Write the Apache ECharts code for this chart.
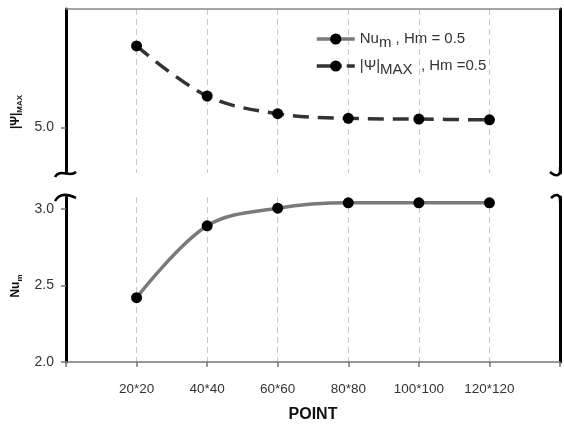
<!DOCTYPE html>
<html>
<head>
<meta charset="utf-8">
<script src="https://cdn.jsdelivr.net/npm/echarts@6/dist/echarts.min.js"></script>
<style>
  html, body { margin: 0; padding: 0; background: #fff; }
  #chart { width: 564px; height: 424px; }
</style>
</head>
<body>
<div id="chart"></div>
<script>
// grid sizes (categories padded with an empty slot on each side)
const points = ['20*20', '40*40', '60*60', '80*80', '100*100', '120*120']
const nuValues = [2.42, 2.89, 3.005, 3.04, 3.04, 3.04]
const psiValues = [5.53, 5.205, 5.09, 5.06, 5.055, 5.05]
const nuTicks = [2.0, 2.5, 3.0]
const psiTicks = [5.0]

const font = 'Liberation Sans'
const axisData = [''].concat(points, [''])
const pad = arr => [null].concat(arr, [null])

const names = {
  num: '{b|Nu}{s|m}{b| , Hm = 0.5}',
  psi: '{b||Ψ|}{s|MAX}{b|  , Hm =0.5}'
}

const dashedGrid = { show: true, lineStyle: { color: '#c8c8c8', type: [6, 4], width: 1 } }

function breakMark(x1, y1, cx1, cy1, cx2, cy2, x2, y2) {
  return {
    type: 'bezierCurve',
    shape: { x1, y1, cpx1: cx1, cpy1: cy1, cpx2: cx2, cpy2: cy2, x2, y2 },
    style: { stroke: '#000', lineWidth: 2.5, fill: null },
    z: 10
  }
}

const subName = {
  b: { fontSize: 12, fontWeight: 'bold', fill: '#111', fontFamily: font, lineHeight: 16 },
  s: { fontSize: 8, fontWeight: 'bold', fill: '#111', fontFamily: font, lineHeight: 16, verticalAlign: 'bottom', padding: [5, 0, 0, 0] }
}

const chart = echarts.init(document.getElementById('chart'))
chart.setOption({
  animation: false,
  backgroundColor: '#fff',
  textStyle: { fontFamily: font },
  grid: [
    { left: 66, right: 4, top: 9, height: 164 },
    { left: 66, right: 4, top: 197, bottom: 61 }
  ],
  xAxis: [
    {
      type: 'category', gridIndex: 0, data: axisData, boundaryGap: false, position: 'top',
      axisLine: { show: true, onZero: false, lineStyle: { color: '#888', width: 1.5 } },
      axisTick: { show: false }, axisLabel: { show: false },
      splitLine: dashedGrid
    },
    {
      type: 'category', gridIndex: 1, data: axisData, boundaryGap: false,
      axisLine: { show: true, onZero: false, lineStyle: { color: '#777', width: 1.5 } },
      axisTick: { show: true, length: 5, interval: 0, lineStyle: { color: '#777', width: 1.5 } },
      axisLabel: { interval: 0, color: '#333', fontSize: 13.5, margin: 20, fontFamily: font },
      splitLine: dashedGrid,
      name: 'POINT', nameLocation: 'middle', nameGap: 45,
      nameTextStyle: { fontSize: 16, fontWeight: 'bold', color: '#111', fontFamily: font }
    }
  ],
  yAxis: [
    {
      type: 'value', gridIndex: 0, min: 4.705, max: 5.77,
      axisLine: { show: true, lineStyle: { color: '#000', width: 3 } },
      axisTick: { show: true, length: 5, customValues: psiTicks, lineStyle: { color: '#777', width: 1.5 } },
      axisLabel: { customValues: psiTicks, formatter: v => v.toFixed(1), color: '#333', fontSize: 14, margin: 12, fontFamily: font },
      splitLine: { show: false }
    },
    {
      type: 'value', gridIndex: 0, position: 'right',
      axisLine: { show: true, lineStyle: { color: '#000', width: 3 } },
      axisTick: { show: false }, axisLabel: { show: false }, splitLine: { show: false }
    },
    {
      type: 'value', gridIndex: 1, min: 2.0, max: 3.078,
      axisLine: { show: true, lineStyle: { color: '#000', width: 3 } },
      axisTick: { show: true, length: 5, customValues: nuTicks, lineStyle: { color: '#777', width: 1.5 } },
      axisLabel: { customValues: nuTicks, formatter: v => v.toFixed(1), color: '#333', fontSize: 14, margin: 12, fontFamily: font },
      splitLine: { show: false }
    },
    {
      type: 'value', gridIndex: 1, position: 'right',
      axisLine: { show: true, lineStyle: { color: '#000', width: 3 } },
      axisTick: { show: false }, axisLabel: { show: false }, splitLine: { show: false }
    }
  ],
  legend: {
    orient: 'vertical', left: 310, top: 22, itemGap: 4,
    itemWidth: 38, itemHeight: 14,
    data: [
      { name: 'num', lineStyle: { color: '#7a7a7a', width: 3.5 } },
      { name: 'psi', lineStyle: { color: '#333', width: 3.5, type: [25, 5] } }
    ],
    formatter: n => names[n],
    textStyle: {
      color: '#333', fontSize: 15, fontFamily: font,
      rich: {
        b: { fontSize: 15, color: '#333', fontFamily: font, lineHeight: 22, verticalAlign: 'middle' },
        s: { fontSize: 15, color: '#333', fontFamily: font, lineHeight: 22, verticalAlign: 'bottom', padding: [8, 0, 0, 0] }
      }
    }
  },
  series: [
    {
      name: 'num', type: 'line', xAxisIndex: 1, yAxisIndex: 2,
      data: pad(nuValues), smooth: 0.35,
      symbol: 'circle', symbolSize: 11,
      itemStyle: { color: '#000' },
      lineStyle: { color: '#7a7a7a', width: 3.5 }
    },
    {
      name: 'psi', type: 'line', xAxisIndex: 0, yAxisIndex: 0,
      data: pad(psiValues), smooth: 0.35,
      symbol: 'circle', symbolSize: 11,
      itemStyle: { color: '#000' },
      lineStyle: { color: '#333', width: 3.5, type: [16, 9] }
    }
  ],
  graphic: [
    {
      type: 'text', rotation: Math.PI / 2, z: 10, x: 16, y: 112,
      style: { text: '{b||Ψ|}{s|MAX}', align: 'center', verticalAlign: 'middle', rich: subName }
    },
    {
      type: 'text', rotation: Math.PI / 2, z: 10, x: 16, y: 286,
      style: { text: '{b|Nu}{s|m}', align: 'center', verticalAlign: 'middle', rich: subName }
    },
    breakMark(55, 177, 60, 168, 70, 178, 76, 172),
    breakMark(55, 201, 60, 192, 70, 195, 76, 198),
    breakMark(560, 167, 561, 177, 556, 177, 550, 172),
    breakMark(560, 203, 561, 194, 556, 193, 551, 198)
  ]
})
</script>
</body>
</html>
